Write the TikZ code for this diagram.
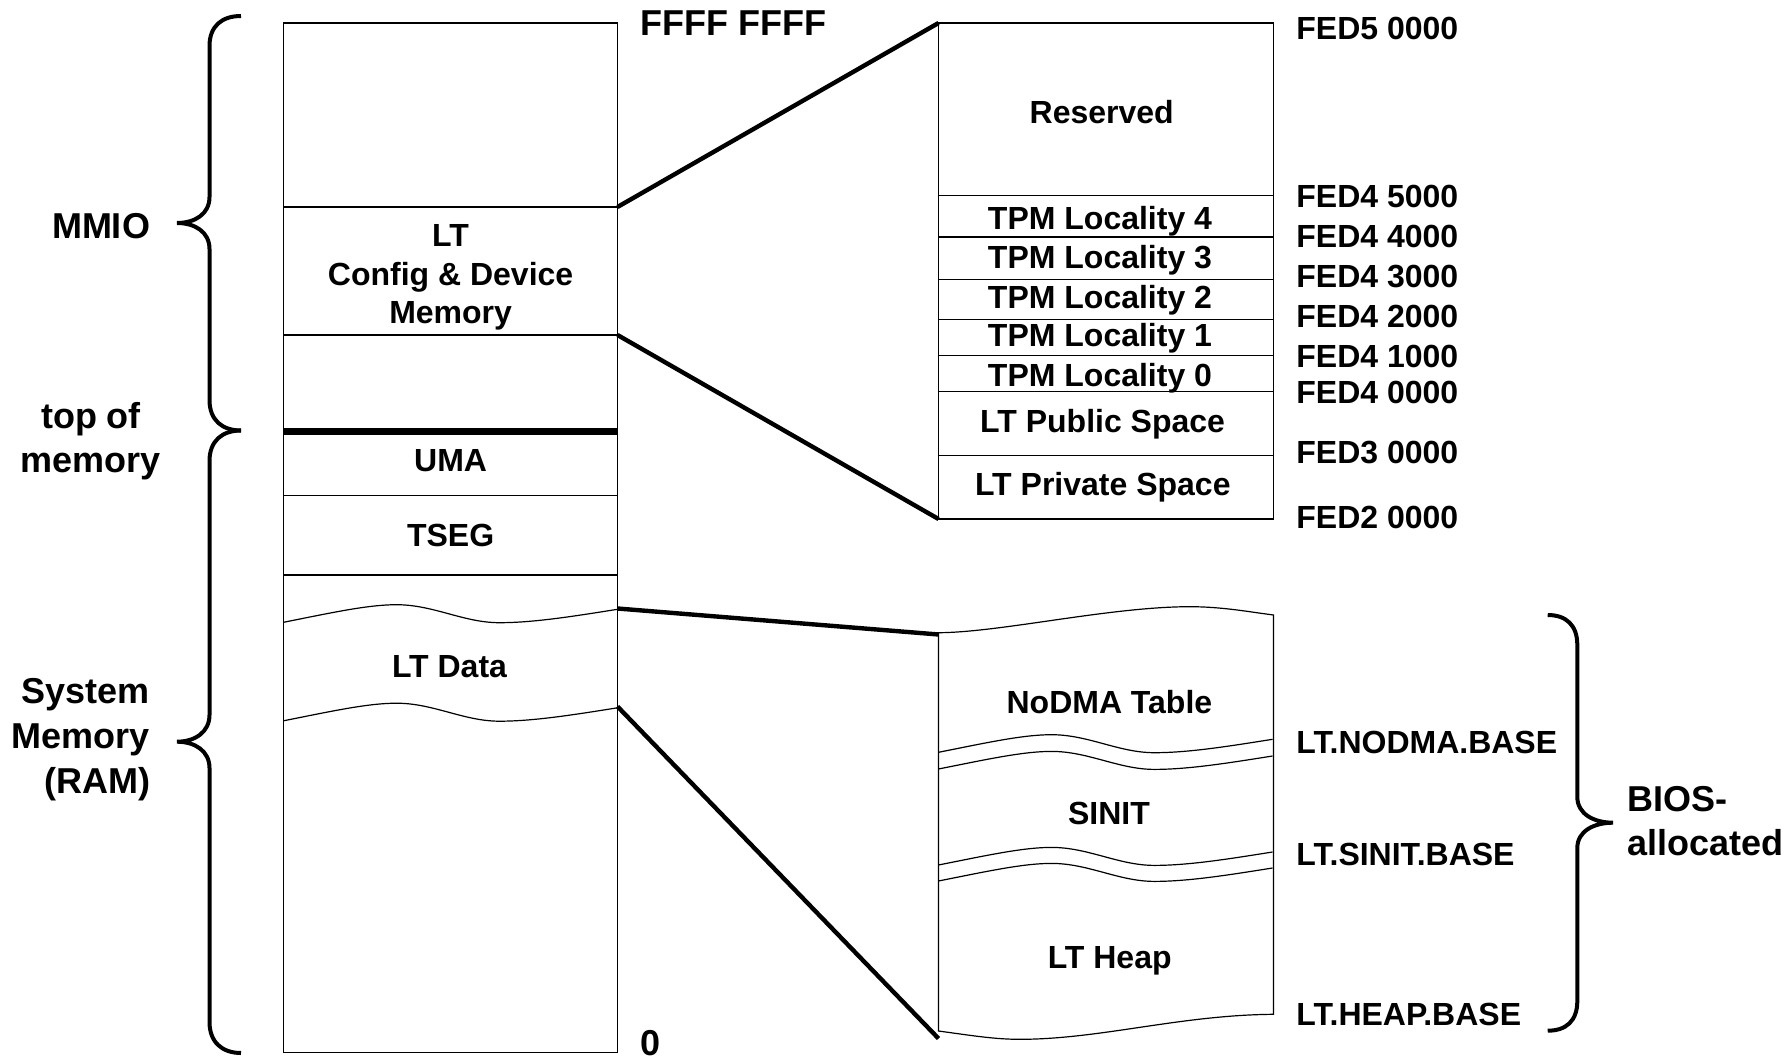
\documentclass[tikz,border=0pt]{standalone}
\usepackage{fontspec}
\setmainfont{Liberation Sans}
\begin{document}
\begin{tikzpicture}[x=0.5pt,y=-0.5pt,
  cell/.style={draw,line width=0.6pt},
  link/.style={line width=2.2pt},
  bracepath/.style={line width=2pt},
  boxtext/.style={font=\bfseries\fontsize{16}{19}\selectfont,inner sep=0pt,anchor=base},
  addr/.style={font=\bfseries\fontsize{16}{19}\selectfont,inner sep=0pt,anchor=base west},
  outer/.style={font=\bfseries\fontsize{18}{22}\selectfont,inner sep=0pt},
  memwave/.pic={\draw[line width=0.6pt] (0,0) .. controls (50,-10) and (85,-17.6) .. (113,-17.6)
     .. controls (150,-17.6) and (180,0.4) .. (216,0.4)
     .. controls (250,0.4) and (290,-6) .. (334,-13);}]
\useasboundingbox (0,0) rectangle (1791,1063);

% ---------- full address space column ----------
\draw[cell] (283.5,23) rectangle (617.5,1052.5);
\draw[cell] (283.5,207) -- (617.5,207);
\draw[cell] (283.5,335) -- (617.5,335);
\draw[line width=3.5pt] (283.5,431.5) -- (617.5,431.5);
\draw[cell] (283.5,495.5) -- (617.5,495.5);
\draw[cell] (283.5,575) -- (617.5,575);
\pic at (283.5,622.3) {memwave};
\pic at (283.5,720.8) {memwave};

\coordinate (cfgNE) at (617.5,207);
\coordinate (cfgSE) at (617.5,335);
\coordinate (ltdTop) at (617.5,608.5);
\coordinate (ltdBot) at (617.5,706.5);

\node[boxtext] (lt1) at (450.6,247) {LT};
\node[boxtext] (lt2) at (450.6,285.7) {Config \& Device};
\node[boxtext] (lt3) at (450.6,323.2) {Memory};
\node[boxtext] (uma) at (450.6,471.4) {UMA};
\node[boxtext] (tseg) at (450.6,546.4) {TSEG};
\node[boxtext] (ltdata) at (449.5,677.7) {LT Data};

\node[outer,anchor=base west] (top) at (640,36) {FFFF FFFF};
\node[outer,anchor=base west] (zero) at (640,1055) {0};

% ---------- left braces and labels ----------
\draw[bracepath] (241,16) .. controls (222,16) and (209.5,26) .. (209.5,46) -- (209.5,197)
  .. controls (209.5,214) and (195,223) .. (177,223)
  .. controls (195,223) and (209.5,232) .. (209.5,249) -- (209.5,400)
  .. controls (209.5,420) and (222,430.5) .. (241,430.5);
\draw[bracepath] (241,430.5) .. controls (222,430.5) and (209.5,441) .. (209.5,461) -- (209.5,715)
  .. controls (209.5,732) and (195,741.7) .. (177,741.7)
  .. controls (195,741.7) and (209.5,751) .. (209.5,768) -- (209.5,1022)
  .. controls (209.5,1042) and (222,1053) .. (241,1053);

\node[outer,anchor=base east] (mmio) at (150.4,238.6) {MMIO};
\node[outer,anchor=base] (tom1) at (91,428.6) {top of};
\node[outer,anchor=base] (tom2) at (91,473) {memory};
\node[outer,anchor=base east] (sys1) at (150.4,703.3) {System};
\node[outer,anchor=base east] (sys2) at (150.4,748.3) {Memory};
\node[outer,anchor=base east] (sys3) at (150.4,793.3) {(RAM)};

% ---------- LT configuration space detail ----------
\draw[cell] (938.5,23) rectangle (1273.5,519);
\foreach \yy in {195.5,237,279.5,319.5,355.5,391.5,455.5}
  \draw[cell] (938.5,\yy) -- (1273.5,\yy);
\coordinate (resNW) at (938.5,23);
\coordinate (privSW) at (938.5,519);

\node[boxtext] (res) at (1101.7,123.2) {Reserved};
\node[boxtext] (loc4) at (1100,229.3) {TPM Locality 4};
\node[boxtext] (loc3) at (1100,268.6) {TPM Locality 3};
\node[boxtext] (loc2) at (1100,309) {TPM Locality 2};
\node[boxtext] (loc1) at (1100,346.4) {TPM Locality 1};
\node[boxtext] (loc0) at (1100,386.4) {TPM Locality 0};
\node[boxtext] (pub) at (1102.6,432) {LT Public Space};
\node[boxtext] (priv) at (1102.8,495.7) {LT Private Space};

\node[addr] (a1) at (1296,40) {FED5 0000};
\node[addr] (a2) at (1296,208) {FED4 5000};
\node[addr] (a3) at (1296,248) {FED4 4000};
\node[addr] (a4) at (1296,288) {FED4 3000};
\node[addr] (a5) at (1296,328) {FED4 2000};
\node[addr] (a6) at (1296,368) {FED4 1000};
\node[addr] (a7) at (1296,403.5) {FED4 0000};
\node[addr] (a8) at (1296,464) {FED3 0000};
\node[addr] (a9) at (1296,528) {FED2 0000};

% ---------- LT data detail ----------
\draw[cell] (938.5,632.7) .. controls (1000,632.5) and (1110,606.7) .. (1190,606.7)
  .. controls (1222,606.7) and (1250,612) .. (1273.5,615) -- (1273.5,1014.3)
  .. controls (1180,1015) and (1100,1039.3) .. (1020,1039.3)
  .. controls (995,1039.3) and (975,1036) .. (938.5,1031) -- cycle;
\pic at (938.5,752.3) {memwave};
\pic at (938.5,769) {memwave};
\pic at (938.5,865) {memwave};
\pic at (938.5,881) {memwave};
\coordinate (heapTop) at (938.5,634.5);
\coordinate (heapBot) at (938.5,1038.5);

\node[boxtext] (nodma) at (1109.4,713) {NoDMA Table};
\node[boxtext] (sinit) at (1109,824.5) {SINIT};
\node[boxtext] (heap) at (1109.7,968) {LT Heap};

\node[addr] (b1) at (1296,753.5) {LT.NODMA.BASE};
\node[addr] (b2) at (1296,865) {LT.SINIT.BASE};
\node[addr] (b3) at (1296,1025) {LT.HEAP.BASE};

\draw[bracepath] (1547.7,615) .. controls (1566,615) and (1577.3,625) .. (1577.3,645) -- (1577.3,797)
  .. controls (1577.3,814) and (1594,822.7) .. (1613,822.7)
  .. controls (1594,822.7) and (1577.3,831) .. (1577.3,848) -- (1577.3,1001)
  .. controls (1577.3,1021) and (1566,1030.7) .. (1547.7,1030.7);
\node[outer,anchor=base west] (bios1) at (1627,811.7) {BIOS-};
\node[outer,anchor=base west] (bios2) at (1627,855) {allocated};

% ---------- zoom connectors ----------
\draw[link] (cfgNE) -- (resNW);
\draw[link] (cfgSE) -- (privSW);
\draw[link] (ltdTop) -- (heapTop);
\draw[link] (ltdBot) -- (heapBot);
\end{tikzpicture}
\end{document}
